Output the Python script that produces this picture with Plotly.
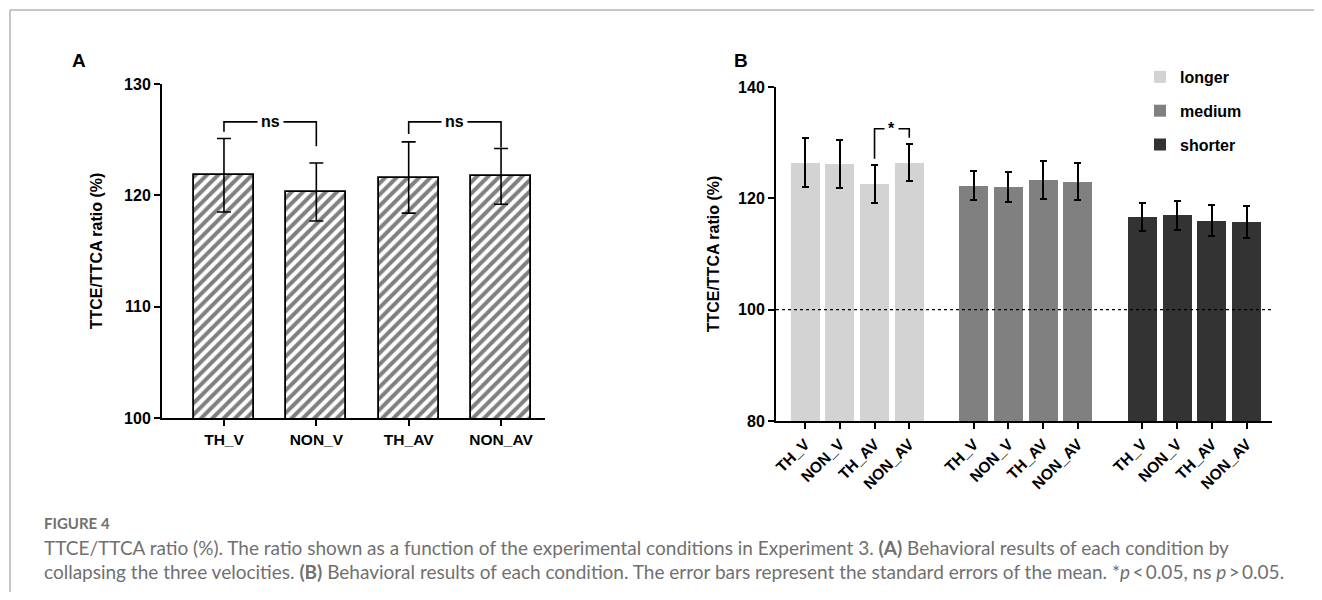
import plotly.graph_objects as go

# page body has an 8px margin on every side; size the figure so the page does not scroll
OFF = 8
W, H = 1322 - 2 * OFF, 600 - 2 * OFF

# ---------------- data ----------------
conditions = ["TH_V", "NON_V", "TH_AV", "NON_AV"]

# Panel A (collapsed over velocities)
meanA = [121.8, 120.3, 121.6, 121.7]
seA = [3.3, 2.6, 3.2, 2.5]

# Panel B (per velocity group)
groups = ["longer", "medium", "shorter"]
meanB_longer = [126.4, 126.2, 122.5, 126.4]
seB_longer = [4.4, 4.3, 3.4, 3.3]
meanB_medium = [122.3, 122.1, 123.3, 123.0]
seB_medium = [2.6, 2.7, 3.4, 3.3]
meanB_shorter = [116.7, 117.0, 116.0, 115.8]
seB_shorter = [2.5, 2.6, 2.8, 2.9]
colorsB = ["#d3d3d3", "#808080", "#333333"]

# significance annotations
sigA_pairs = [(0, 1), (2, 3)]
sigA_top = [126.6, 126.6]
sigA_legs = [(125.7, 124.4), (125.5, 124.3)]
sigA_text = ["ns", "ns"]

sigB_pairs = [(2, 3)]          # within "longer" group
sigB_top = [132.5]
sigB_legs = [(127.1, 130.9)]
sigB_text = ["*"]

caption_title = "FIGURE 4"
caption_lines = [
    "TTCE/TTCA ratio (%). The ratio shown as a function of the experimental conditions in Experiment 3. <b>(A)</b> Behavioral results of each condition by",
    "collapsing the three velocities. <b>(B)</b> Behavioral results of each condition. The error bars represent the standard errors of the mean. *<i>p</i>\u2009<\u20090.05, ns <i>p</i>\u2009>\u20090.05.",
]

# ---------------- helpers (screen pixel -> paper fraction) ----------------
def px_x(p):
    return (p - OFF) / W

def px_y(p):
    return 1 - (p - OFF) / H

AX_FONT = "Liberation Sans, Arial, sans-serif"
CAP_FONT = "Lato, Open Sans, sans-serif"

fig = go.Figure()

# Panel A bars
fig.add_trace(go.Bar(
    x=conditions, y=meanA, xaxis="x", yaxis="y", width=0.65,
    error_y=dict(type="data", array=seA, color="black", thickness=1.6, width=7),
    marker=dict(color="white",
                pattern=dict(shape="/", fgcolor="black", bgcolor="white", size=8, solidity=0.5),
                line=dict(color="black", width=1.8)),
    showlegend=False,
))

# Panel B bars
GROUP_STEP = 4.855
meansB = [meanB_longer, meanB_medium, meanB_shorter]
sesB = [seB_longer, seB_medium, seB_shorter]
all_pos = []
for g, name in enumerate(groups):
    pos = [g * GROUP_STEP + i for i in range(len(conditions))]
    all_pos += pos
    fig.add_trace(go.Bar(
        x=pos, y=meansB[g], xaxis="x2", yaxis="y2", width=0.835, name=name,
        legendgroup=name,
        error_y=dict(type="data", array=sesB[g], color="black", thickness=2, width=3.5),
        marker=dict(color=colorsB[g], line=dict(width=0)),
    ))

def axis_style(size):
    return dict(showline=True, linecolor="black", linewidth=2, ticks="outside",
                ticklen=6, tickwidth=2, tickcolor="black", showgrid=False, zeroline=False,
                automargin=False,
                tickfont=dict(family=AX_FONT, size=size, color="black", weight="bold"))

title_font = dict(family=AX_FONT, size=16, color="black")

fig.update_layout(
    width=W, height=H, margin=dict(l=0, r=0, t=0, b=0, autoexpand=False),
    paper_bgcolor="white", plot_bgcolor="white",
    bargap=0,
    xaxis=dict(domain=[px_x(162), px_x(545)], anchor="y", range=[-0.671, 3.476],
               **axis_style(15.5)),
    yaxis=dict(domain=[px_y(418), px_y(84)], anchor="x", range=[100, 130],
               tickvals=[100, 110, 120, 130],
               title=dict(text="<b>TTCE/TTCA ratio (%)</b>", standoff=17, font=title_font),
               **axis_style(16)),
    xaxis2=dict(domain=[px_x(776), px_x(1272)], anchor="y2", range=[-0.836, 13.44],
                tickvals=all_pos, ticktext=conditions * len(groups), tickangle=-45,
                **axis_style(15.5)),
    yaxis2=dict(domain=[px_y(421), px_y(87)], anchor="x2", range=[80, 140],
                tickvals=[80, 100, 120, 140],
                title=dict(text="<b>TTCE/TTCA ratio (%)</b>", standoff=14, font=title_font),
                **axis_style(16)),
    legend=dict(x=px_x(1140), y=px_y(60), xanchor="left", yanchor="top",
                font=dict(family=AX_FONT, size=16, color="black", weight="bold"),
                tracegroupgap=10, bgcolor="rgba(0,0,0,0)"),
)

shapes = []
annotations = []

# border: only the top and left edges are visible in the cropped original
border = dict(color="#b4b4b4", width=1.5)
shapes.append(dict(type="line", xref="paper", yref="paper",
                   x0=px_x(10), x1=1, y0=px_y(10), y1=px_y(10), line=border, layer="below"))
shapes.append(dict(type="line", xref="paper", yref="paper",
                   x0=px_x(10), x1=px_x(10), y0=0, y1=px_y(10), line=border, layer="below"))

# dotted reference line at 100 in panel B
shapes.append(dict(type="line", xref="x2 domain", yref="y2", x0=0, x1=1, y0=100, y1=100,
                   line=dict(color="black", width=1.3, dash="dot"), layer="above"))

def bracket(xref, yref, xa, xb, top, la, lb, text, size):
    shapes.append(dict(type="path", xref=xref, yref=yref,
                       path=f"M {xa},{la} L {xa},{top} L {xb},{top} L {xb},{lb}",
                       line=dict(color="black", width=1.6)))
    annotations.append(dict(x=(xa + xb) / 2, y=top, xref=xref, yref=yref, text=f"<b>{text}</b>",
                            showarrow=False, bgcolor="white", borderpad=3,
                            font=dict(family=AX_FONT, size=size, color="black"),
                            xanchor="center", yanchor="middle"))

for (a, b), top, (la, lb), t in zip(sigA_pairs, sigA_top, sigA_legs, sigA_text):
    bracket("x", "y", a, b, top, la, lb, t, 16)
for (a, b), top, (la, lb), t in zip(sigB_pairs, sigB_top, sigB_legs, sigB_text):
    bracket("x2", "y2", a, b, top, la, lb, t, 16)

# panel letters
for letter, xp in (("A", 79), ("B", 741)):
    annotations.append(dict(x=px_x(xp), y=px_y(61), xref="paper", yref="paper",
                            text=f"<b>{letter}</b>", showarrow=False,
                            xanchor="center", yanchor="middle",
                            font=dict(family=AX_FONT, size=19, color="black")))

# caption
annotations.append(dict(x=px_x(42), y=px_y(523), xref="paper", yref="paper",
                        text=f"<b>{caption_title}</b>", showarrow=False, xanchor="left",
                        yanchor="middle", font=dict(family=CAP_FONT, size=15, color="#707070")))
for i, line in enumerate(caption_lines):
    annotations.append(dict(x=px_x(42), y=px_y(547 + 24 * i), xref="paper", yref="paper",
                            text=line, showarrow=False, xanchor="left", yanchor="middle",
                            font=dict(family=CAP_FONT, size=19, color="#707070")))

fig.update_layout(shapes=shapes, annotations=annotations)

fig.write_html("out.html")
